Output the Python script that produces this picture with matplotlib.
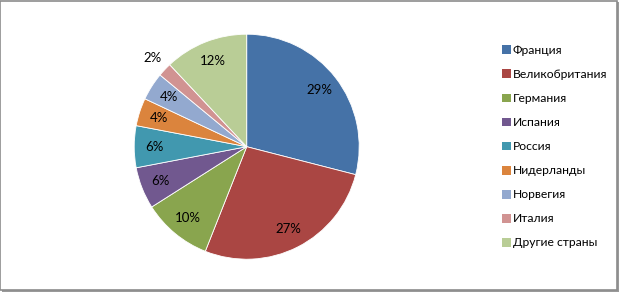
import matplotlib
matplotlib.use("Agg")
import matplotlib.pyplot as plt
from matplotlib.patches import Patch, Rectangle
import numpy as np

countries = ['Франция', 'Великобритания', 'Германия', 'Испания', 'Россия',
             'Нидерланды', 'Норвегия', 'Италия', 'Другие страны']
shares = [29, 27, 10, 6, 6, 4, 4, 2, 12]
colors = ['#4572A7', '#AA4643', '#89A54E', '#71588F', '#4198AF',
          '#DB843D', '#93A9CF', '#D19392', '#B9CD96']

plt.rcParams['font.family'] = ['Lato', 'DejaVu Sans']

W, H = 619, 292
fig = plt.figure(figsize=(W / 100, H / 100), dpi=100)

# рамка с тенью
fig.patches.append(Rectangle((2 / W, 0), (W - 2) / W, (H - 2) / H, transform=fig.transFigure,
                             facecolor='#9a9a9a', edgecolor='none', zorder=-2))
fig.patches.append(Rectangle((0, 2 / H), (W - 2.5) / W, (H - 2.5) / H, transform=fig.transFigure,
                             facecolor='white', edgecolor='#8c8c8c', linewidth=1.2, zorder=-1))

cx, cy, r = 246.7, 146.7, 112.5
ax = fig.add_axes([(cx - r) / W, (H - cy - r) / H, 2 * r / W, 2 * r / H])
ax.patch.set_visible(False)
wedges, _ = ax.pie(shares, colors=colors, startangle=90, counterclock=False,
                   radius=1, wedgeprops=dict(edgecolor='white', linewidth=0.6))
ax.set_xlim(-1, 1)
ax.set_ylim(-1, 1)
ax.axis('off')

for w, v in zip(wedges, shares):
    ang = np.deg2rad((w.theta1 + w.theta2) / 2)
    d = 1.15 if v == 2 else 0.82
    ax.text(d * np.cos(ang), d * np.sin(ang), f'{v}%', ha='center', va='center',
            fontsize=9.5, color='black')

handles = [Patch(facecolor=c, edgecolor='none') for c in colors]
fig.legend(handles, countries, loc='upper left', bbox_to_anchor=(496 / W, 1 - 39 / H),
           frameon=False, fontsize=8.7, handlelength=0.75, handleheight=0.75,
           handletextpad=0.15, labelspacing=1.08, borderpad=0)

fig.savefig('out.png', dpi=100)
